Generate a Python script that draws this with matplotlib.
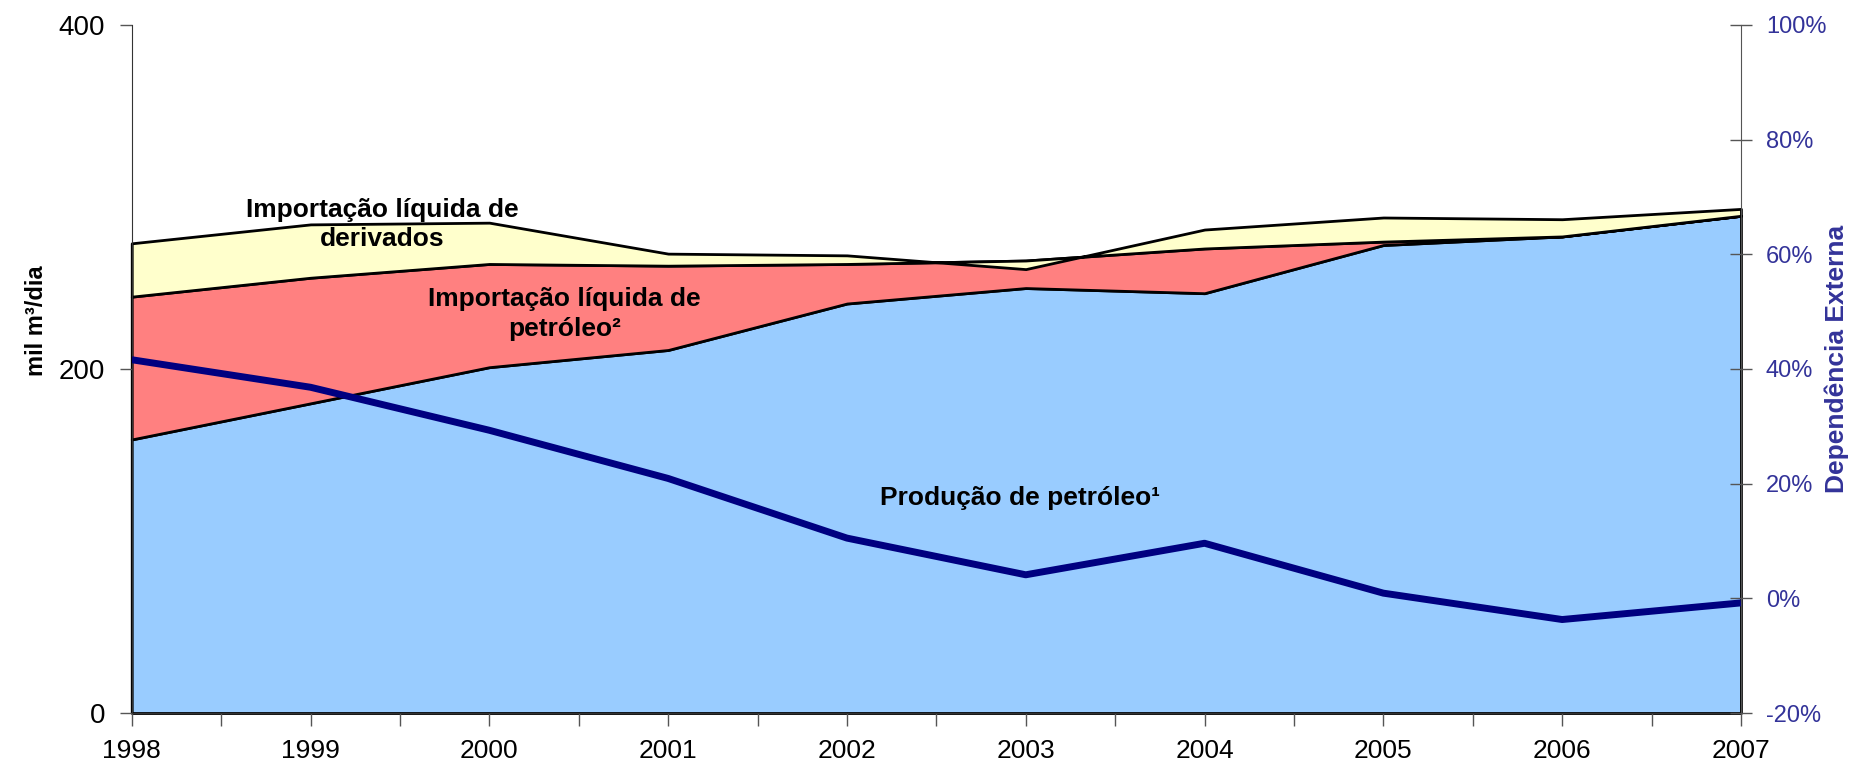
import matplotlib.pyplot as plt
from matplotlib.ticker import FuncFormatter, MultipleLocator

plt.rcParams['font.family'] = ['Liberation Sans', 'DejaVu Sans']

# dados (mil m3/dia e %)
anos = [1998, 1999, 2000, 2001, 2002, 2003, 2004, 2005, 2006, 2007]
producao = [159, 180, 201, 211, 238, 247, 244, 272, 277, 289]
imp_petroleo = [83, 73, 60, 49, 23, 16, 26, 2, 0, 0]
imp_derivados = [31, 31, 24, 7, 5, -5, 11, 14, 10, 4]
dependencia = [41.6, 36.8, 29.3, 20.9, 10.5, 4.1, 9.6, 0.9, -3.7, -0.8]

topo1 = producao
topo2 = [a + b for a, b in zip(producao, imp_petroleo)]
topo3 = [a + b for a, b in zip(topo2, imp_derivados)]

fig = plt.figure(figsize=(18.58, 7.68), dpi=100)
ax = fig.add_axes([0.0709, 0.0716, 0.8661, 0.8961])

ax.fill_between(anos, 0, topo1, facecolor='#99CCFF', edgecolor='black', linewidth=2, clip_on=False)
ax.fill_between(anos, topo1, topo2, facecolor='#FF8080', edgecolor='black', linewidth=2, clip_on=False)
ax.fill_between(anos, topo2, topo3, facecolor='#FFFFCC', edgecolor='black', linewidth=2, clip_on=False)

ax.set_xlim(1998, 2007)
ax.set_ylim(0, 400)
ax.set_yticks([0, 200, 400])
ax.xaxis.set_major_locator(MultipleLocator(1))
ax.xaxis.set_minor_locator(MultipleLocator(0.5))
ax.tick_params(axis='x', which='both', direction='out', length=9, width=1, color='#555555',
               labelsize=19, pad=10)
ax.tick_params(axis='y', direction='out', length=9, width=1, color='#555555', labelsize=20, pad=10)
for s in ['top', 'right']:
    ax.spines[s].set_visible(False)
ax.spines['left'].set_color('#333333')
ax.spines['bottom'].set_color('#333333')
ax.set_ylabel('mil m³/dia', fontsize=17, fontweight='bold')
ax.yaxis.set_label_coords(-0.052, 0.57)

ax.text(1999.4, 284, 'Importação líquida de\nderivados', ha='center', va='center',
        fontsize=19, fontweight='bold', linespacing=1.3)
ax.text(2000.42, 232, 'Importação líquida de\npetróleo²', ha='center', va='center',
        fontsize=19, fontweight='bold', linespacing=1.3)
ax.text(2002.97, 125, 'Produção de petróleo¹', ha='center', va='center',
        fontsize=19, fontweight='bold')

# eixo secundario
ax2 = ax.twinx()
ax2.plot(anos, dependencia, color='#000080', linewidth=5, solid_capstyle='butt')
ax2.set_ylim(-20, 100)
ax2.set_yticks(range(-20, 101, 20))
ax2.yaxis.set_major_formatter(FuncFormatter(lambda v, p: '%d%%' % v))
ax2.tick_params(axis='y', direction='inout', length=16, width=1, color='#555555',
                labelsize=17, labelcolor='#333399', pad=10)
for s in ['top', 'left', 'bottom']:
    ax2.spines[s].set_visible(False)
ax2.spines['right'].set_color('#555555')
ax2.set_ylabel('Dependência Externa', fontsize=19, fontweight='bold', color='#333399')
ax2.yaxis.set_label_coords(1.052, 0.515)

fig.savefig('out.png', dpi=100)
